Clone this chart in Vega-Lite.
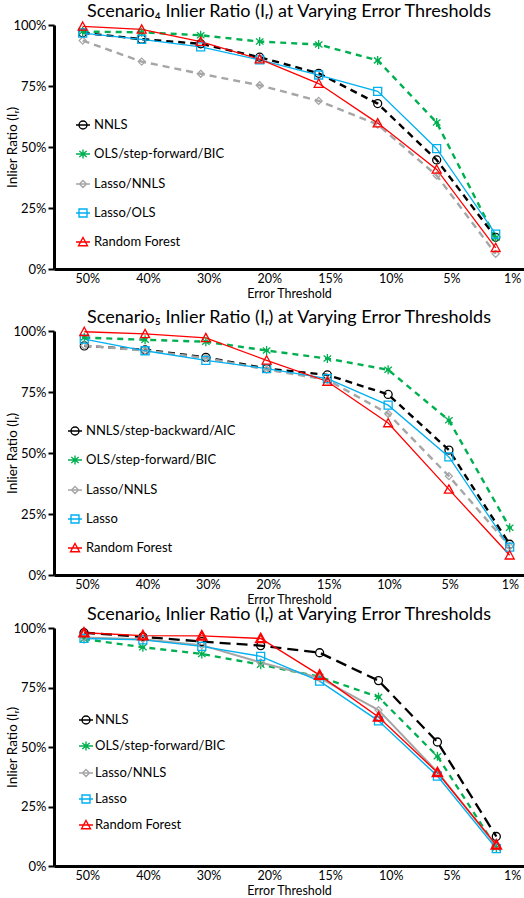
{
  "$schema": "https://vega.github.io/schema/vega-lite/v6.json",
  "padding": {"left": 5, "top": 3, "right": 0, "bottom": 0},
  "spacing": 8,
  "config": {
    "view": {"stroke": null},
    "font": "Lato",
    "title": {"font": "Lato", "fontSize": 18, "fontWeight": "normal", "color": "#000000", "offset": -2},
    "axis": {"labelFont": "Lato", "titleFont": "Lato", "labelColor": "#000000", "titleColor": "#000000", "titleFontWeight": "normal", "grid": false, "domainColor": "#000000", "domainWidth": 3, "tickColor": "#000000"},
    "axisY": {"labelFontSize": 13, "titleFontSize": 13.5, "tickSize": 6, "tickWidth": 2, "labelPadding": 2, "titleX": -35},
    "axisX": {"labelFontSize": 12.5, "titleFontSize": 12.5, "ticks": false, "labelPadding": 3, "titlePadding": 3},
    "legend": {"labelFont": "Lato", "labelFontSize": 13, "labelColor": "#000000", "orient": "none", "title": null, "symbolSize": 196, "symbolStrokeWidth": 1.4, "labelOffset": 3}
  },
  "datasets": {
    "s4": [
      {"idx":0,"method":"NNLS","v":96.8},{"idx":1,"method":"NNLS","v":94.2},{"idx":2,"method":"NNLS","v":92.3},{"idx":3,"method":"NNLS","v":86.8},{"idx":4,"method":"NNLS","v":80.2},{"idx":5,"method":"NNLS","v":67.8},{"idx":6,"method":"NNLS","v":44.7},{"idx":7,"method":"NNLS","v":13.0},
      {"idx":0,"method":"OLS/step-forward/BIC","v":97.3},{"idx":1,"method":"OLS/step-forward/BIC","v":97.0},{"idx":2,"method":"OLS/step-forward/BIC","v":95.8},{"idx":3,"method":"OLS/step-forward/BIC","v":93.2},{"idx":4,"method":"OLS/step-forward/BIC","v":92.0},{"idx":5,"method":"OLS/step-forward/BIC","v":85.5},{"idx":6,"method":"OLS/step-forward/BIC","v":60.0},{"idx":7,"method":"OLS/step-forward/BIC","v":12.8},
      {"idx":0,"method":"Lasso/NNLS","v":93.6},{"idx":1,"method":"Lasso/NNLS","v":85.0},{"idx":2,"method":"Lasso/NNLS","v":80.0},{"idx":3,"method":"Lasso/NNLS","v":75.3},{"idx":4,"method":"Lasso/NNLS","v":68.9},{"idx":5,"method":"Lasso/NNLS","v":59.2},{"idx":6,"method":"Lasso/NNLS","v":38.3},{"idx":7,"method":"Lasso/NNLS","v":6.2},
      {"idx":0,"method":"Lasso/OLS","v":96.7},{"idx":1,"method":"Lasso/OLS","v":94.1},{"idx":2,"method":"Lasso/OLS","v":91.0},{"idx":3,"method":"Lasso/OLS","v":85.7},{"idx":4,"method":"Lasso/OLS","v":79.5},{"idx":5,"method":"Lasso/OLS","v":72.8},{"idx":6,"method":"Lasso/OLS","v":49.3},{"idx":7,"method":"Lasso/OLS","v":14.3},
      {"idx":0,"method":"Random Forest","v":99.4},{"idx":1,"method":"Random Forest","v":98.2},{"idx":2,"method":"Random Forest","v":93.2},{"idx":3,"method":"Random Forest","v":86.0},{"idx":4,"method":"Random Forest","v":76.0},{"idx":5,"method":"Random Forest","v":59.8},{"idx":6,"method":"Random Forest","v":40.8},{"idx":7,"method":"Random Forest","v":8.7}
    ],
    "s5": [
      {"idx":0,"method":"NNLS/step-backward/AIC","v":93.9},{"idx":1,"method":"NNLS/step-backward/AIC","v":92.3},{"idx":2,"method":"NNLS/step-backward/AIC","v":89.2},{"idx":3,"method":"NNLS/step-backward/AIC","v":84.6},{"idx":4,"method":"NNLS/step-backward/AIC","v":82.0},{"idx":5,"method":"NNLS/step-backward/AIC","v":74.0},{"idx":6,"method":"NNLS/step-backward/AIC","v":51.2},{"idx":7,"method":"NNLS/step-backward/AIC","v":12.6},
      {"idx":0,"method":"OLS/step-forward/BIC","v":97.3},{"idx":1,"method":"OLS/step-forward/BIC","v":96.4},{"idx":2,"method":"OLS/step-forward/BIC","v":95.6},{"idx":3,"method":"OLS/step-forward/BIC","v":92.0},{"idx":4,"method":"OLS/step-forward/BIC","v":88.7},{"idx":5,"method":"OLS/step-forward/BIC","v":84.1},{"idx":6,"method":"OLS/step-forward/BIC","v":63.4},{"idx":7,"method":"OLS/step-forward/BIC","v":19.4},
      {"idx":0,"method":"Lasso/NNLS","v":94.0},{"idx":1,"method":"Lasso/NNLS","v":92.0},{"idx":2,"method":"Lasso/NNLS","v":88.9},{"idx":3,"method":"Lasso/NNLS","v":84.2},{"idx":4,"method":"Lasso/NNLS","v":80.0},{"idx":5,"method":"Lasso/NNLS","v":66.1},{"idx":6,"method":"Lasso/NNLS","v":40.5},{"idx":7,"method":"Lasso/NNLS","v":11.8},
      {"idx":0,"method":"Lasso","v":96.7},{"idx":1,"method":"Lasso","v":91.9},{"idx":2,"method":"Lasso","v":88.0},{"idx":3,"method":"Lasso","v":84.6},{"idx":4,"method":"Lasso","v":80.5},{"idx":5,"method":"Lasso","v":69.6},{"idx":6,"method":"Lasso","v":48.4},{"idx":7,"method":"Lasso","v":11.4},
      {"idx":0,"method":"Random Forest","v":99.7},{"idx":1,"method":"Random Forest","v":98.8},{"idx":2,"method":"Random Forest","v":97.2},{"idx":3,"method":"Random Forest","v":88.0},{"idx":4,"method":"Random Forest","v":79.3},{"idx":5,"method":"Random Forest","v":62.3},{"idx":6,"method":"Random Forest","v":35.1},{"idx":7,"method":"Random Forest","v":8.1}
    ],
    "s6": [
      {"idx":0,"method":"NNLS","v":98.0},{"idx":1,"method":"NNLS","v":96.3},{"idx":2,"method":"NNLS","v":94.3},{"idx":3,"method":"NNLS","v":92.6},{"idx":4,"method":"NNLS","v":89.6},{"idx":5,"method":"NNLS","v":77.9},{"idx":6,"method":"NNLS","v":52.1},{"idx":7,"method":"NNLS","v":12.4},
      {"idx":0,"method":"OLS/step-forward/BIC","v":95.4},{"idx":1,"method":"OLS/step-forward/BIC","v":91.9},{"idx":2,"method":"OLS/step-forward/BIC","v":89.1},{"idx":3,"method":"OLS/step-forward/BIC","v":84.6},{"idx":4,"method":"OLS/step-forward/BIC","v":79.5},{"idx":5,"method":"OLS/step-forward/BIC","v":71.0},{"idx":6,"method":"OLS/step-forward/BIC","v":46.1},{"idx":7,"method":"OLS/step-forward/BIC","v":7.8},
      {"idx":0,"method":"Lasso/NNLS","v":96.0},{"idx":1,"method":"Lasso/NNLS","v":95.3},{"idx":2,"method":"Lasso/NNLS","v":92.8},{"idx":3,"method":"Lasso/NNLS","v":85.5},{"idx":4,"method":"Lasso/NNLS","v":79.0},{"idx":5,"method":"Lasso/NNLS","v":65.5},{"idx":6,"method":"Lasso/NNLS","v":39.5},{"idx":7,"method":"Lasso/NNLS","v":8.5},
      {"idx":0,"method":"Lasso","v":95.6},{"idx":1,"method":"Lasso","v":95.0},{"idx":2,"method":"Lasso","v":92.3},{"idx":3,"method":"Lasso","v":88.1},{"idx":4,"method":"Lasso","v":77.7},{"idx":5,"method":"Lasso","v":61.0},{"idx":6,"method":"Lasso","v":37.8},{"idx":7,"method":"Lasso","v":7.3},
      {"idx":0,"method":"Random Forest","v":98.0},{"idx":1,"method":"Random Forest","v":96.8},{"idx":2,"method":"Random Forest","v":96.7},{"idx":3,"method":"Random Forest","v":95.6},{"idx":4,"method":"Random Forest","v":80.2},{"idx":5,"method":"Random Forest","v":62.6},{"idx":6,"method":"Random Forest","v":39.3},{"idx":7,"method":"Random Forest","v":8.9}
    ]
  },
  "vconcat": [
    {
      "width": 470, "height": 244,
      "title": "Scenario₄ Inlier Ratio (Iᵣ) at Varying Error Thresholds",
      "data": {"name": "s4"},
      "encoding": {
        "x": {"field": "idx", "type": "quantitative", "scale": {"domain": [-0.486, 7.48], "nice": false, "zero": false},
              "axis": {"title": "Error Threshold", "values": [0.078, 1.107, 2.136, 3.164, 4.193, 5.222, 6.251, 7.28], "labelExpr": "['50%','40%','30%','20%','15%','10%','5%','1%'][round(datum.value)]"}},
        "y": {"field": "v", "type": "quantitative", "scale": {"domain": [0, 100], "nice": false},
              "axis": {"title": "Inlier Ratio (Iᵣ)", "values": [0, 25, 50, 75, 100], "labelExpr": "datum.value + '%'"}}
      },
      "layer": [
        {"transform": [{"filter": {"field": "method", "oneOf": ["NNLS", "OLS/step-forward/BIC", "Lasso/NNLS"]}}],
         "mark": {"type": "line", "strokeWidth": 2.4},
         "encoding": {
           "color": {"field": "method", "type": "nominal", "legend": null, "scale": {"domain": ["NNLS", "OLS/step-forward/BIC", "Lasso/NNLS", "Lasso/OLS", "Random Forest"], "range": ["#000000", "#00B050", "#A6A6A6", "#00B0F0", "#FF0000"]}},
           "strokeDash": {"field": "method", "type": "nominal", "legend": null, "scale": {"domain": ["NNLS", "OLS/step-forward/BIC", "Lasso/NNLS", "Lasso/OLS", "Random Forest"], "range": [[7, 5], [6, 5], [7, 5], [1, 0], [1, 0]]}}
         }},
        {"transform": [{"filter": {"field": "method", "oneOf": ["Lasso/OLS", "Random Forest"]}}],
         "mark": {"type": "line", "strokeWidth": 1.3},
         "encoding": {
           "color": {"field": "method", "type": "nominal", "legend": null, "scale": {"domain": ["NNLS", "OLS/step-forward/BIC", "Lasso/NNLS", "Lasso/OLS", "Random Forest"], "range": ["#000000", "#00B050", "#A6A6A6", "#00B0F0", "#FF0000"]}}
         }},
        {"mark": {"type": "point", "filled": false, "strokeWidth": 1.3, "size": 100, "opacity": 1},
         "encoding": {
           "color": {"field": "method", "type": "nominal", "legend": null, "scale": {"domain": ["NNLS", "OLS/step-forward/BIC", "Lasso/NNLS", "Lasso/OLS", "Random Forest"], "range": ["#000000", "#00B050", "#A6A6A6", "#00B0F0", "#FF0000"]}},
           "shape": {"field": "method", "type": "nominal", "legend": null, "scale": {"domain": ["NNLS", "OLS/step-forward/BIC", "Lasso/NNLS", "Lasso/OLS", "Random Forest"], "range": ["M0.8,0A0.8,0.8 0 1,1 -0.8,0A0.8,0.8 0 1,1 0.8,0Z", "M0,-0.9V0.9M-0.75,-0.6L0.75,0.6M-0.75,0.6L0.75,-0.6M-0.45,0H0.45", "M0,-0.7L0.7,0L0,0.7L-0.7,0Z", "M-0.8,-0.8H0.8V0.8H-0.8Z", "M0,-0.9L0.9,0.75H-0.9Z"]}}
         }},
        {"transform": [{"filter": "false"}],
         "mark": {"type": "point", "filled": false, "strokeWidth": 1.4, "opacity": 1},
         "encoding": {
           "color": {"field": "method", "type": "nominal", "legend": {"legendX": 21, "legendY": 92, "rowPadding": 14}, "scale": {"domain": ["NNLS", "OLS/step-forward/BIC", "Lasso/NNLS", "Lasso/OLS", "Random Forest"], "range": ["#000000", "#00B050", "#A6A6A6", "#00B0F0", "#FF0000"]}},
           "shape": {"field": "method", "type": "nominal", "legend": {"legendX": 21, "legendY": 92, "rowPadding": 14}, "scale": {"domain": ["NNLS", "OLS/step-forward/BIC", "Lasso/NNLS", "Lasso/OLS", "Random Forest"], "range": ["M-1,0H1M0.57,0A0.57,0.57 0 1,1 -0.57,0A0.57,0.57 0 1,1 0.57,0Z", "M-1,0H1M0,-0.64V0.64M-0.53,-0.43L0.53,0.43M-0.53,0.43L0.53,-0.43", "M-1,0H1M0,-0.5L0.5,0L0,0.5L-0.5,0Z", "M-1,0H1M-0.57,-0.57H0.57V0.57H-0.57Z", "M-1,0H1M0,-0.64L0.64,0.54H-0.64Z"]}}
         }}
      ],
      "resolve": {"scale": {"color": "independent", "shape": "independent", "strokeDash": "independent"}}
    },
    {
      "spacing": 0,
      "vconcat": [
        {
          "width": 470, "height": 244,
          "title": "Scenario₅ Inlier Ratio (Iᵣ) at Varying Error Thresholds",
          "data": {"name": "s5"},
          "encoding": {
            "x": {"field": "idx", "type": "quantitative", "scale": {"domain": [-0.4986, 7.2355], "nice": false, "zero": false},
                  "axis": {"title": "Error Threshold", "values": [0.044, 1.039, 2.033, 3.028, 4.022, 5.016, 6.011, 7.005], "labelExpr": "['50%','40%','30%','20%','15%','10%','5%','1%'][round(datum.value)]"}},
            "y": {"field": "v", "type": "quantitative", "scale": {"domain": [0, 100], "nice": false},
                  "axis": {"title": "Inlier Ratio (Iᵣ)", "values": [0, 25, 50, 75, 100], "labelExpr": "datum.value + '%'"}}
          },
          "layer": [
            {"transform": [{"filter": {"field": "method", "oneOf": ["NNLS/step-backward/AIC", "OLS/step-forward/BIC", "Lasso/NNLS"]}}],
             "mark": {"type": "line", "strokeWidth": 2.4},
             "encoding": {
               "color": {"field": "method", "type": "nominal", "legend": null, "scale": {"domain": ["NNLS/step-backward/AIC", "OLS/step-forward/BIC", "Lasso/NNLS", "Lasso", "Random Forest"], "range": ["#000000", "#00B050", "#A6A6A6", "#00B0F0", "#FF0000"]}},
               "strokeDash": {"field": "method", "type": "nominal", "legend": null, "scale": {"domain": ["NNLS/step-backward/AIC", "OLS/step-forward/BIC", "Lasso/NNLS", "Lasso", "Random Forest"], "range": [[7, 5], [6, 5], [7, 5], [1, 0], [1, 0]]}}
             }},
            {"transform": [{"filter": {"field": "method", "oneOf": ["Lasso", "Random Forest"]}}],
             "mark": {"type": "line", "strokeWidth": 1.3},
             "encoding": {
               "color": {"field": "method", "type": "nominal", "legend": null, "scale": {"domain": ["NNLS/step-backward/AIC", "OLS/step-forward/BIC", "Lasso/NNLS", "Lasso", "Random Forest"], "range": ["#000000", "#00B050", "#A6A6A6", "#00B0F0", "#FF0000"]}}
             }},
            {"mark": {"type": "point", "filled": false, "strokeWidth": 1.3, "size": 100, "opacity": 1},
             "encoding": {
               "color": {"field": "method", "type": "nominal", "legend": null, "scale": {"domain": ["NNLS/step-backward/AIC", "OLS/step-forward/BIC", "Lasso/NNLS", "Lasso", "Random Forest"], "range": ["#000000", "#00B050", "#A6A6A6", "#00B0F0", "#FF0000"]}},
               "shape": {"field": "method", "type": "nominal", "legend": null, "scale": {"domain": ["NNLS/step-backward/AIC", "OLS/step-forward/BIC", "Lasso/NNLS", "Lasso", "Random Forest"], "range": ["M0.8,0A0.8,0.8 0 1,1 -0.8,0A0.8,0.8 0 1,1 0.8,0Z", "M0,-0.9V0.9M-0.75,-0.6L0.75,0.6M-0.75,0.6L0.75,-0.6M-0.45,0H0.45", "M0,-0.7L0.7,0L0,0.7L-0.7,0Z", "M-0.8,-0.8H0.8V0.8H-0.8Z", "M0,-0.9L0.9,0.75H-0.9Z"]}}
             }},
            {"transform": [{"filter": "false"}],
             "mark": {"type": "point", "filled": false, "strokeWidth": 1.4, "opacity": 1},
             "encoding": {
               "color": {"field": "method", "type": "nominal", "legend": {"legendX": 13, "legendY": 92, "rowPadding": 14}, "scale": {"domain": ["NNLS/step-backward/AIC", "OLS/step-forward/BIC", "Lasso/NNLS", "Lasso", "Random Forest"], "range": ["#000000", "#00B050", "#A6A6A6", "#00B0F0", "#FF0000"]}},
               "shape": {"field": "method", "type": "nominal", "legend": {"legendX": 13, "legendY": 92, "rowPadding": 14}, "scale": {"domain": ["NNLS/step-backward/AIC", "OLS/step-forward/BIC", "Lasso/NNLS", "Lasso", "Random Forest"], "range": ["M-1,0H1M0.57,0A0.57,0.57 0 1,1 -0.57,0A0.57,0.57 0 1,1 0.57,0Z", "M-1,0H1M0,-0.64V0.64M-0.53,-0.43L0.53,0.43M-0.53,0.43L0.53,-0.43", "M-1,0H1M0,-0.5L0.5,0L0,0.5L-0.5,0Z", "M-1,0H1M-0.57,-0.57H0.57V0.57H-0.57Z", "M-1,0H1M0,-0.64L0.64,0.54H-0.64Z"]}}
             }}
          ],
          "resolve": {"scale": {"color": "independent", "shape": "independent", "strokeDash": "independent"}}
        },
        {
          "width": 470, "height": 238,
          "title": "Scenario₆ Inlier Ratio (Iᵣ) at Varying Error Thresholds",
          "data": {"name": "s6"},
          "encoding": {
            "x": {"field": "idx", "type": "quantitative", "scale": {"domain": [-0.509, 7.47], "nice": false, "zero": false},
                  "axis": {"title": "Error Threshold", "values": [0.056, 1.086, 2.116, 3.146, 4.176, 5.207, 6.237, 7.267], "labelExpr": "['50%','40%','30%','20%','15%','10%','5%','1%'][round(datum.value)]"}},
            "y": {"field": "v", "type": "quantitative", "scale": {"domain": [0, 100], "nice": false},
                  "axis": {"title": "Inlier Ratio (Iᵣ)", "values": [0, 25, 50, 75, 100], "labelExpr": "datum.value + '%'"}}
          },
          "layer": [
            {"transform": [{"filter": {"field": "method", "oneOf": ["NNLS", "OLS/step-forward/BIC"]}}],
             "mark": {"type": "line", "strokeWidth": 2.3},
             "encoding": {
               "color": {"field": "method", "type": "nominal", "legend": null, "scale": {"domain": ["NNLS", "OLS/step-forward/BIC", "Lasso/NNLS", "Lasso", "Random Forest"], "range": ["#000000", "#00B050", "#A6A6A6", "#00B0F0", "#FF0000"]}},
               "strokeDash": {"field": "method", "type": "nominal", "legend": null, "scale": {"domain": ["NNLS", "OLS/step-forward/BIC", "Lasso/NNLS", "Lasso", "Random Forest"], "range": [[11, 6], [6, 5], [1, 0], [1, 0], [1, 0]]}}
             }},
            {"transform": [{"filter": {"field": "method", "oneOf": ["Lasso/NNLS"]}}],
             "mark": {"type": "line", "strokeWidth": 2},
             "encoding": {
               "color": {"field": "method", "type": "nominal", "legend": null, "scale": {"domain": ["NNLS", "OLS/step-forward/BIC", "Lasso/NNLS", "Lasso", "Random Forest"], "range": ["#000000", "#00B050", "#A6A6A6", "#00B0F0", "#FF0000"]}}
             }},
            {"transform": [{"filter": {"field": "method", "oneOf": ["Lasso", "Random Forest"]}}],
             "mark": {"type": "line", "strokeWidth": 1.4},
             "encoding": {
               "color": {"field": "method", "type": "nominal", "legend": null, "scale": {"domain": ["NNLS", "OLS/step-forward/BIC", "Lasso/NNLS", "Lasso", "Random Forest"], "range": ["#000000", "#00B050", "#A6A6A6", "#00B0F0", "#FF0000"]}}
             }},
            {"transform": [{"filter": {"field": "method", "oneOf": ["NNLS", "OLS/step-forward/BIC", "Lasso/NNLS", "Lasso"]}}],
             "mark": {"type": "point", "filled": false, "strokeWidth": 1.3, "size": 100, "opacity": 1},
             "encoding": {
               "color": {"field": "method", "type": "nominal", "legend": null, "scale": {"domain": ["NNLS", "OLS/step-forward/BIC", "Lasso/NNLS", "Lasso", "Random Forest"], "range": ["#000000", "#00B050", "#A6A6A6", "#00B0F0", "#FF0000"]}},
               "shape": {"field": "method", "type": "nominal", "legend": null, "scale": {"domain": ["NNLS", "OLS/step-forward/BIC", "Lasso/NNLS", "Lasso", "Random Forest"], "range": ["M0.8,0A0.8,0.8 0 1,1 -0.8,0A0.8,0.8 0 1,1 0.8,0Z", "M0,-0.9V0.9M-0.75,-0.6L0.75,0.6M-0.75,0.6L0.75,-0.6M-0.45,0H0.45", "M0,-0.7L0.7,0L0,0.7L-0.7,0Z", "M-0.8,-0.8H0.8V0.8H-0.8Z", "M0,-0.9L0.9,0.75H-0.9Z"]}}
             }},
            {"transform": [{"filter": {"field": "method", "equal": "Random Forest"}}],
             "mark": {"type": "point", "filled": false, "strokeWidth": 2.2, "size": 100, "opacity": 1, "color": "#FF0000", "shape": "M0,-0.9L0.9,0.75H-0.9Z"}
            },
            {"transform": [{"filter": "false"}],
             "mark": {"type": "point", "filled": false, "strokeWidth": 1.4, "opacity": 1},
             "encoding": {
               "color": {"field": "method", "type": "nominal", "legend": {"legendX": 24, "legendY": 84, "rowPadding": 11, "labelOffset": 1}, "scale": {"domain": ["NNLS", "OLS/step-forward/BIC", "Lasso/NNLS", "Lasso", "Random Forest"], "range": ["#000000", "#00B050", "#A6A6A6", "#00B0F0", "#FF0000"]}},
               "shape": {"field": "method", "type": "nominal", "legend": {"legendX": 24, "legendY": 84, "rowPadding": 11, "labelOffset": 1}, "scale": {"domain": ["NNLS", "OLS/step-forward/BIC", "Lasso/NNLS", "Lasso", "Random Forest"], "range": ["M-1,0H1M0.57,0A0.57,0.57 0 1,1 -0.57,0A0.57,0.57 0 1,1 0.57,0Z", "M-1,0H1M0,-0.64V0.64M-0.53,-0.43L0.53,0.43M-0.53,0.43L0.53,-0.43", "M-1,0H1M0,-0.5L0.5,0L0,0.5L-0.5,0Z", "M-1,0H1M-0.57,-0.57H0.57V0.57H-0.57Z", "M-1,0H1M0,-0.64L0.64,0.54H-0.64Z"]}}
             }}
          ],
          "resolve": {"scale": {"color": "independent", "shape": "independent", "strokeDash": "independent"}}
        }
      ]
    }
  ]
}
